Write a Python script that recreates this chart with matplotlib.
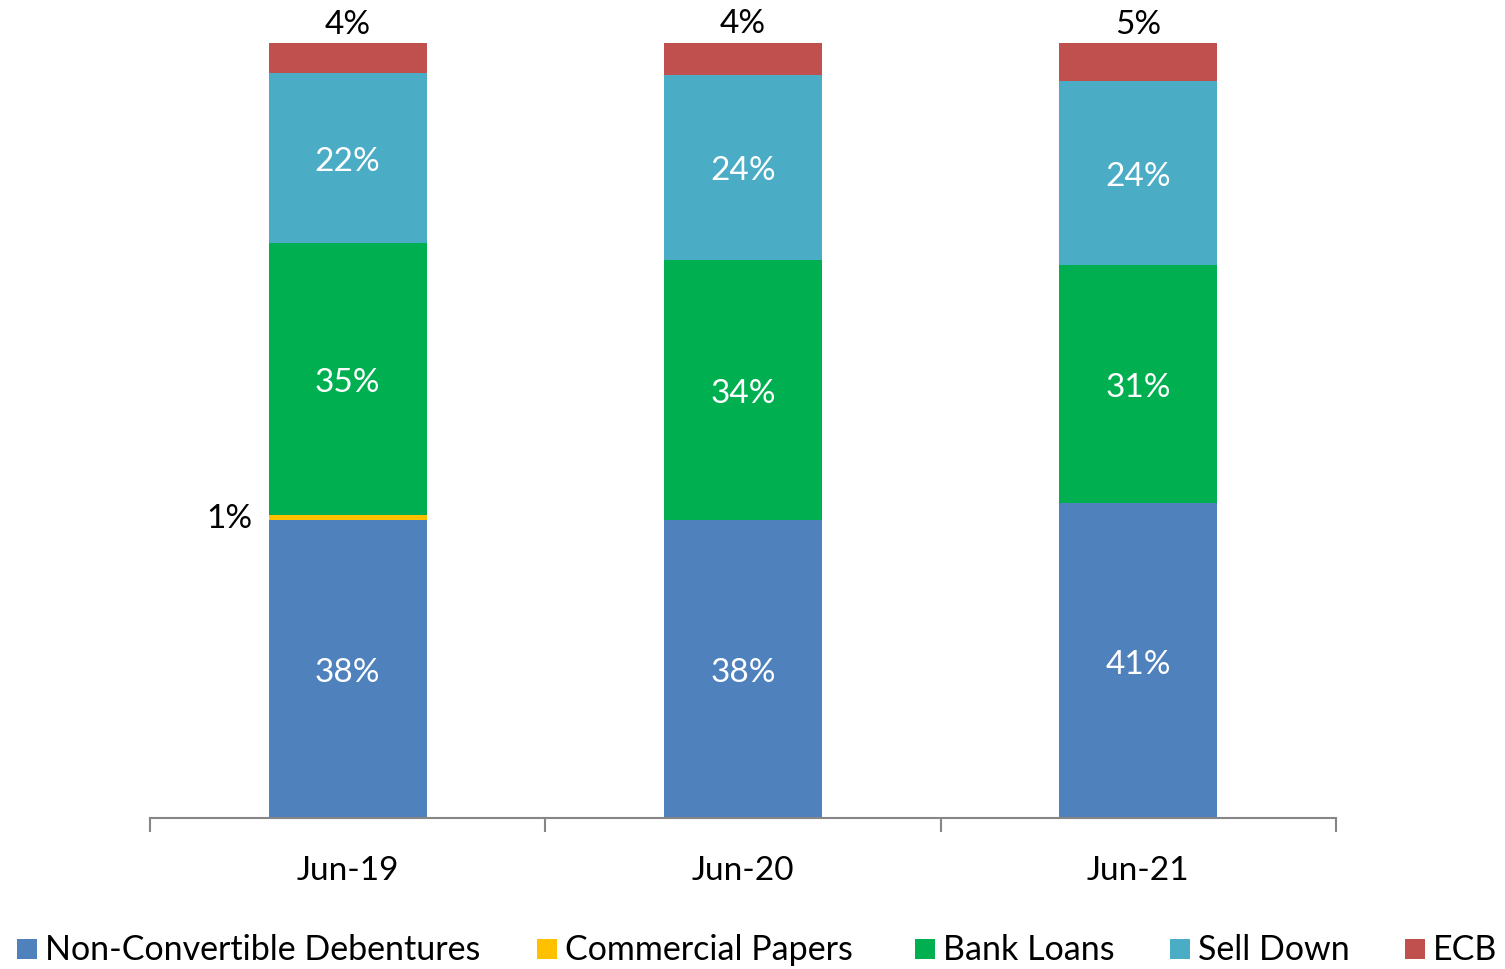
import matplotlib
matplotlib.use("Agg")
import matplotlib.pyplot as plt
from matplotlib.patches import Rectangle
import numpy as np

plt.rcParams['font.family'] = ['Lato', 'DejaVu Sans']

categories = ["Jun-19", "Jun-20", "Jun-21"]
series_names = ["Non-Convertible Debentures", "Commercial Papers", "Bank Loans", "Sell Down", "ECB"]
ncd = [38.4, 38.4, 40.6]
cp = [0.7, 0.0, 0.0]
bank = [35.1, 33.6, 30.8]
sell = [21.9, 23.9, 23.7]
ecb = [3.9, 4.2, 4.9]
colors = ["#4F81BD", "#FFC000", "#00B050", "#4BACC6", "#C0504D"]

series = [ncd, cp, bank, sell, ecb]

W, H = 1505, 969
fig = plt.figure(figsize=(W / 100, H / 100), dpi=100)
ax = fig.add_axes([150 / W, (H - 818) / H, (1336 - 150) / W, (818 - 43) / H])

x = np.arange(len(categories))
bw = 0.40
bottom = np.zeros(len(categories))
FS = 24
LFS = 24.5
for i, (vals, col) in enumerate(zip(series, colors)):
    vals = np.array(vals)
    ax.bar(x, vals, bw, bottom=bottom, color=col, edgecolor='none', zorder=2)
    for j, v in enumerate(vals):
        if v <= 0:
            continue
        lab = f"{v:.0f}%"
        if i == 4:
            ax.annotate(lab, (x[j], bottom[j] + v), xytext=(0, 18), textcoords='offset pixels',
                        ha='center', va='center', fontsize=FS, color='black', annotation_clip=False)
        elif i == 1:
            ax.annotate(lab, (x[j] - bw / 2, bottom[j] + v / 2), xytext=(-16, -1), textcoords='offset pixels',
                        ha='right', va='center', fontsize=FS, color='black', annotation_clip=False)
        else:
            ax.annotate(lab, (x[j], bottom[j] + v / 2), xytext=(0, -4), textcoords='offset pixels',
                        ha='center', va='center', fontsize=FS, color='white')
    bottom += vals

ax.set_xlim(-0.5, len(categories) - 0.5)
ax.set_ylim(0, 100)
for s in ['top', 'right', 'left']:
    ax.spines[s].set_visible(False)
ax.spines['bottom'].set_color('#868686')
ax.spines['bottom'].set_linewidth(1.5)
ax.set_yticks([])
ax.set_xticks(np.arange(-0.5, len(categories), 1.0))
ax.set_xticklabels([])
ax.set_xticks(x, minor=True)
ax.set_xticklabels(categories, minor=True, fontsize=FS)
ax.tick_params(axis='x', which='major', length=10, width=1.5, color='#868686')
ax.tick_params(axis='x', which='minor', length=0, pad=27)

# legend
mk = [17, 537, 915, 1170, 1405]
for px, name, col in zip(mk, series_names, colors):
    fig.patches.append(Rectangle((px / W, (H - 959) / H), 20 / W, 20 / H, transform=fig.transFigure,
                                 facecolor=col, edgecolor='none'))
    fig.text((px + 28) / W, (H - 950) / H, name, ha='left', va='center', fontsize=LFS)

fig.savefig("out.png", dpi=100)
